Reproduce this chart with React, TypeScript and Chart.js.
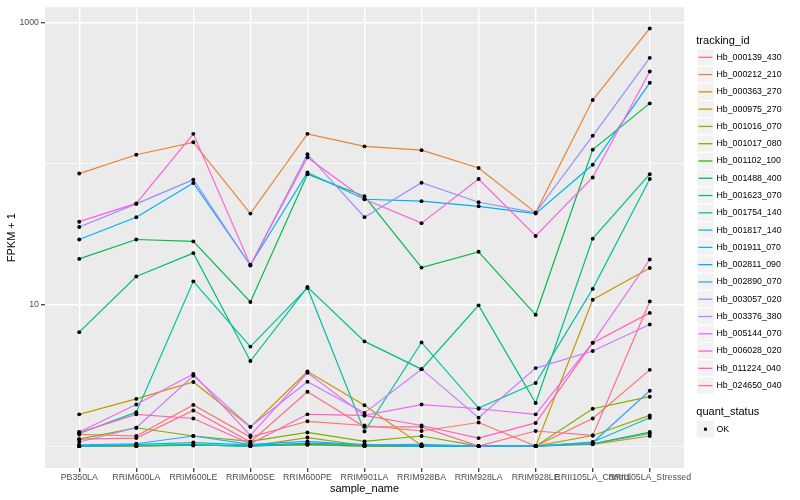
import React, { useEffect, useRef } from 'react';
import { Chart, registerables } from 'chart.js';

Chart.register(...registerables);

const FONT = '"Liberation Sans", Arial, Helvetica, sans-serif';

const categories = [
  'PB350LA', 'RRIM600LA', 'RRIM600LE', 'RRIM600SE', 'RRIM600PE', 'RRIM901LA',
  'RRIM928BA', 'RRIM928LA', 'RRIM928LE', 'RRII105LA_Control', 'RRII105LA_Stressed',
];

const trackingIds = [
  'Hb_000139_430', 'Hb_000212_210', 'Hb_000363_270', 'Hb_000975_270', 'Hb_001016_070',
  'Hb_001017_080', 'Hb_001102_100', 'Hb_001488_400', 'Hb_001623_070', 'Hb_001754_140',
  'Hb_001817_140', 'Hb_001911_070', 'Hb_002811_090', 'Hb_002890_070', 'Hb_003057_020',
  'Hb_003376_380', 'Hb_005144_070', 'Hb_006028_020', 'Hb_011224_040', 'Hb_024650_040',
];

const seriesColors = [
  '#F8766D', '#EA8331', '#D89000', '#C09B00', '#A3A500',
  '#7CAE00', '#39B600', '#00BB4E', '#00BF7D', '#00C1A3',
  '#00BFC4', '#00BAE0', '#00B0F6', '#35A2FF', '#9590FF',
  '#C77CFF', '#E76BF3', '#FA62DB', '#FF62BC', '#FF6C91',
];

// FPKM + 1 per sample (order of categories)
const hb000139_430 = [1.21, 1.18, 1.96, 1.16, 1.5, 1.4, 1.28, 1.47, 1.0, 1.57, 3.47];
const hb000212_210 = [85.3, 116, 142, 44.4, 163, 133, 125, 93.5, 45.1, 283, 910];
const hb000363_270 = [1.0, 1.0, 1.01, 1.01, 1.02, 1.0, 1.0, 1.0, 1.0, 1.03, 1.18];
const hb000975_270 = [1.68, 2.16, 2.85, 1.37, 3.38, 1.95, 1.01, 1.0, 1.0, 10.9, 18.3];
const hb001016_070 = [1.01, 1.0, 1.02, 1.0, 1.15, 1.01, 1.0, 1.0, 1.0, 1.19, 1.65];
const hb001017_080 = [1.12, 1.35, 1.18, 1.08, 1.25, 1.08, 1.18, 1.0, 1.0, 1.84, 2.24];
const hb001102_100 = [1.0, 1.01, 1.02, 1.0, 1.03, 1.0, 1.0, 1.0, 1.0, 1.04, 1.26];
const hb001488_400 = [21.2, 29.1, 28.2, 10.5, 84.4, 58.9, 18.4, 23.8, 8.52, 126, 268];
const hb001623_070 = [6.42, 15.9, 23.3, 4.01, 13.4, 5.52, 3.51, 9.94, 2.02, 29.5, 84.4];
const hb001754_140 = [1.23, 1.74, 14.7, 5.07, 13.2, 1.27, 5.43, 1.86, 2.8, 13.0, 78.1];
const hb001817_140 = [1.0, 1.03, 1.06, 1.02, 1.04, 1.03, 1.0, 1.0, 1.0, 1.07, 1.59];
const hb001911_070 = [1.0, 1.01, 1.02, 1.0, 1.05, 1.02, 1.0, 1.0, 1.0, 1.04, 1.23];
const hb002811_090 = [29.1, 41.8, 73.1, 19.2, 86.9, 56.1, 54.4, 50.0, 44.4, 98.5, 375];
const hb002890_070 = [1.02, 1.04, 1.18, 1.03, 1.08, 1.02, 1.03, 1.0, 1.0, 1.06, 2.47];
const hb003057_020 = [35.7, 52.0, 77.3, 19.0, 117, 41.9, 73.5, 53.4, 45.1, 158, 563];
const hb003376_380 = [1.07, 1.35, 3.15, 1.37, 2.86, 1.72, 3.51, 1.59, 3.57, 4.72, 7.27];
const hb005144_070 = [1.26, 1.97, 3.24, 1.19, 3.31, 1.65, 1.97, 1.84, 1.68, 5.41, 21.0];
const hb006028_020 = [38.9, 52.4, 163, 19.2, 111, 56.1, 38.0, 78.1, 30.8, 80.0, 451];
const hb011224_040 = [1.25, 1.68, 1.57, 1.04, 1.68, 1.65, 1.4, 1.14, 1.46, 5.39, 8.79];
const hb024650_040 = [1.12, 1.14, 1.79, 1.07, 2.43, 1.37, 1.37, 1.0, 1.28, 1.19, 10.6];

const seriesValues = [
  hb000139_430, hb000212_210, hb000363_270, hb000975_270, hb001016_070,
  hb001017_080, hb001102_100, hb001488_400, hb001623_070, hb001754_140,
  hb001817_140, hb001911_070, hb002811_090, hb002890_070, hb003057_020,
  hb003376_380, hb005144_070, hb006028_020, hb011224_040, hb024650_040,
];

const yTickValues = [1, 10, 100, 1000];
const yTickLabels = ['', '10', '', '1000'];
const yMajor = [false, true, false, true];
const quantStatus = ['OK'];

export default function App() {
  const ref = useRef<HTMLCanvasElement>(null);

  useEffect(() => {
    const canvas = ref.current;
    if (!canvas) return;

    const panelPlugin = {
      id: 'panelBg',
      beforeDraw(chart: any) {
        const { ctx, chartArea } = chart;
        ctx.save();
        ctx.fillStyle = '#EBEBEB';
        ctx.fillRect(chartArea.left, chartArea.top, chartArea.right - chartArea.left, chartArea.bottom - chartArea.top);
        ctx.restore();
      },
    };

    const legendPlugin = {
      id: 'ggLegend',
      afterDraw(chart: any) {
        const ctx = chart.ctx as CanvasRenderingContext2D;
        ctx.save();
        const x0 = 696.8;
        const key = 17.28;
        ctx.textAlign = 'left';
        ctx.textBaseline = 'middle';
        ctx.fillStyle = '#000';
        ctx.font = `11px ${FONT}`;
        ctx.fillText('tracking_id', x0 - 0.5, 40.5);
        trackingIds.forEach((id, i) => {
          const cy = 57.3 + i * key;
          ctx.fillStyle = '#F2F2F2';
          ctx.fillRect(x0, cy - key / 2, key, key);
          ctx.strokeStyle = '#FFFFFF';
          ctx.lineWidth = 1;
          ctx.strokeRect(x0, cy - key / 2, key, key);
          ctx.strokeStyle = seriesColors[i];
          ctx.lineWidth = 1.3;
          ctx.beginPath();
          ctx.moveTo(x0 + 1.7, cy);
          ctx.lineTo(x0 + key - 1.7, cy);
          ctx.stroke();
          ctx.fillStyle = '#000';
          ctx.font = `8.8px ${FONT}`;
          ctx.fillText(id, x0 + key + 2.4, cy);
        });
        ctx.font = `11px ${FONT}`;
        ctx.fillStyle = '#000';
        ctx.fillText('quant_status', x0 - 0.5, 412);
        quantStatus.forEach((s, i) => {
          const cy = 429.2 + i * key;
          ctx.fillStyle = '#F2F2F2';
          ctx.fillRect(x0, cy - key / 2, key, key);
          ctx.fillStyle = '#000';
          ctx.fillRect(x0 + key / 2 - 1.5, cy - 1.5, 3, 3);
          ctx.font = `8.8px ${FONT}`;
          ctx.fillText(s, x0 + key + 2.4, cy);
        });
        ctx.restore();
      },
    };

    const n = seriesValues.length;
    const lineDatasets = seriesValues.map((vals, si) => ({
      type: 'line' as const,
      label: trackingIds[si],
      data: vals.map((v, i) => ({ x: i, y: v })),
      borderColor: seriesColors[si],
      backgroundColor: seriesColors[si],
      borderWidth: 1.2,
      pointRadius: 0,
      fill: false,
      tension: 0,
      order: n - si,
    }));

    const pointDataset = {
      type: 'line' as const,
      label: 'OK',
      data: seriesValues.flatMap((vals) => vals.map((v, i) => ({ x: i, y: v }))),
      showLine: false,
      pointRadius: 1.95,
      pointBackgroundColor: '#000',
      pointBorderWidth: 0,
      borderWidth: 0,
      order: -1,
    };

    const chart = new Chart(canvas, {
      type: 'line',
      data: { datasets: [...lineDatasets, pointDataset] as any },
      options: {
        animation: false,
        responsive: false,
        devicePixelRatio: 1,
        events: [],
        layout: { padding: { top: 5, right: 116, bottom: 0, left: 0 } },
        plugins: { legend: { display: false }, tooltip: { enabled: false } },
        scales: {
          x: {
            type: 'linear',
            min: -0.6,
            max: 10.6,
            afterBuildTicks: (scale: any) => {
              scale.ticks = categories.map((_, i) => ({ value: i }));
            },
            afterFit: (scale: any) => {
              scale.height = 32;
            },
            ticks: {
              autoSkip: false,
              maxRotation: 0,
              minRotation: 0,
              padding: 0,
              color: '#4D4D4D',
              font: { family: FONT, size: 8.8 },
              callback: (_v: any, i: number) => categories[i],
            },
            grid: {
              color: '#FFFFFF',
              lineWidth: 1.4,
              tickLength: 4,
              tickColor: '#333333',
              tickWidth: 1.2,
            },
            border: { display: false },
            title: {
              display: true,
              text: 'sample_name',
              color: '#000',
              font: { family: FONT, size: 11 },
              padding: { top: 0, bottom: 4 },
            },
          },
          y: {
            type: 'logarithmic',
            min: 0.717,
            max: 1285,
            afterBuildTicks: (scale: any) => {
              scale.ticks = yTickValues.map((v) => ({ value: v }));
            },
            afterFit: (scale: any) => {
              scale.width = 45;
            },
            ticks: {
              autoSkip: false,
              padding: 2,
              color: '#4D4D4D',
              font: { family: FONT, size: 8.8 },
              callback: (_v: any, i: number) => yTickLabels[i],
            },
            grid: {
              color: '#FFFFFF',
              lineWidth: (c: any) => (yMajor[c.index] ? 1.4 : 0.7),
              tickLength: 4,
              tickColor: (c: any) => (yMajor[c.index] ? '#333333' : 'rgba(0,0,0,0)'),
              tickWidth: 1.2,
            },
            border: { display: false },
            title: {
              display: true,
              text: 'FPKM + 1',
              color: '#000',
              font: { family: FONT, size: 11 },
              padding: { top: 5, bottom: 0 },
            },
          },
        },
      } as any,
      plugins: [panelPlugin, legendPlugin],
    });

    return () => chart.destroy();
  }, []);

  return (
    <div style={{ position: 'fixed', left: 0, top: 0, width: 800, height: 500, background: '#FFFFFF' }}>
      <canvas ref={ref} width={800} height={500} style={{ display: 'block', width: 800, height: 500 }} />
    </div>
  );
}
